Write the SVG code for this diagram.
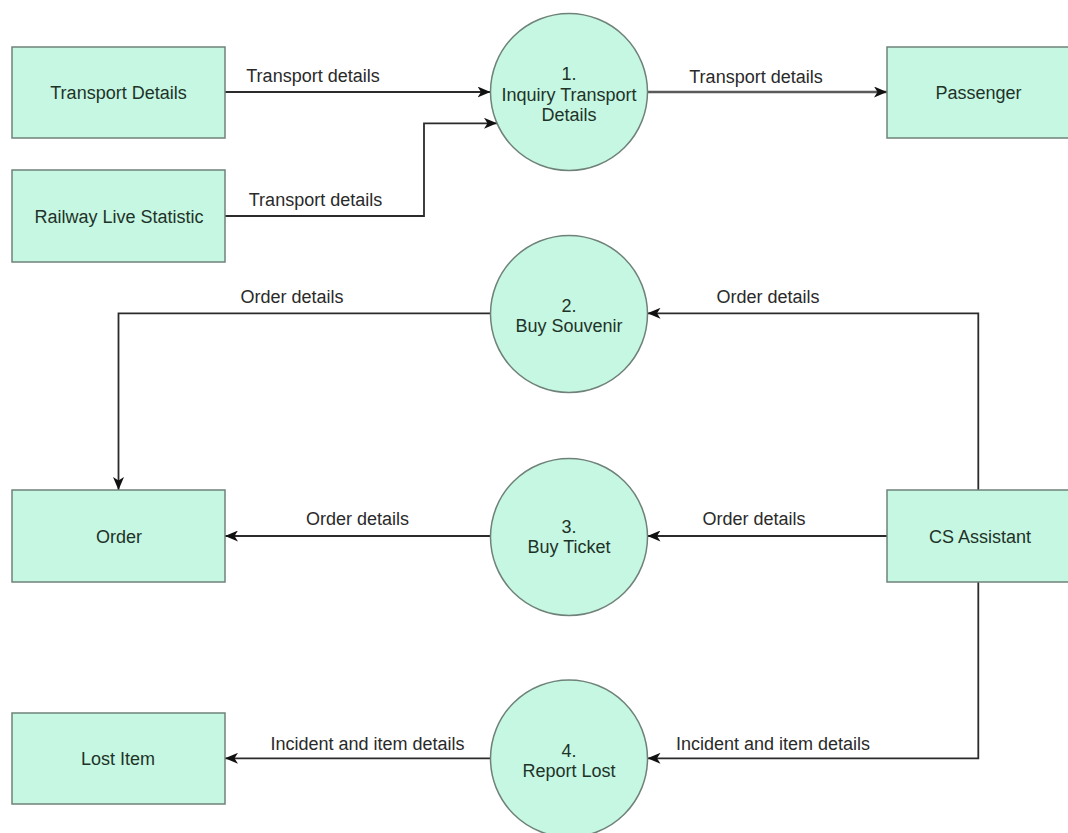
<svg xmlns="http://www.w3.org/2000/svg" width="1068" height="833" viewBox="0 0 1068 833">
<style>
.box{fill:#c6f7e2;stroke:#6f827a;stroke-width:1.5}
.proc{fill:#c6f7e2;stroke:#6f827a;stroke-width:1.5}
.nt{font-family:"Liberation Sans",Arial,sans-serif;font-size:18px;fill:#1e3328;text-anchor:middle}
.lbl{font-family:"Liberation Sans",Arial,sans-serif;font-size:18px;fill:#2a2a2a;text-anchor:middle}
.edge{fill:none;stroke:#2b2b2b;stroke-width:1.8;marker-end:url(#arr)}
.edge2{fill:none;stroke:#5a5a5a;stroke-width:2.4;marker-end:url(#arr)}
</style>
<defs>
<marker id="arr" viewBox="0 0 13 11" refX="13" refY="5.5" markerWidth="13" markerHeight="11" markerUnits="userSpaceOnUse" orient="auto">
<path d="M0,0 L13,5.5 L0,11 L3.5,5.5 z" fill="#111"/>
</marker>
</defs>
<rect width="1068" height="833" fill="#ffffff"/>

<g id="connectors">
<path class="edge" d="M225,92 L490.5,92"/>
<path class="edge" d="M225,216 L424,216 L424,123.3 L497,123.3"/>
<path class="edge2" d="M647.5,92 L887,92"/>
<path class="edge" d="M978.3,490 L978.3,313.3 L647.5,313.3"/>
<path class="edge" d="M490.5,313.3 L118.5,313.3 L118.5,490"/>
<path class="edge" d="M887,536 L647.5,536"/>
<path class="edge" d="M490.5,536 L225,536"/>
<path class="edge" d="M978.3,582 L978.3,758.3 L647.5,758.3"/>
<path class="edge" d="M490.5,758.3 L225,758.3"/>
<text class="lbl" x="313" y="82">Transport details</text>
<text class="lbl" x="315.5" y="206">Transport details</text>
<text class="lbl" x="756" y="83">Transport details</text>
<text class="lbl" x="292" y="303">Order details</text>
<text class="lbl" x="768" y="303">Order details</text>
<text class="lbl" x="357.5" y="525">Order details</text>
<text class="lbl" x="754" y="525">Order details</text>
<text class="lbl" x="367.5" y="750">Incident and item details</text>
<text class="lbl" x="773" y="750">Incident and item details</text>
</g>

<g id="transport-details">
<rect class="box" x="12" y="47" width="213" height="91"/>
<text class="nt" x="118.5" y="99">Transport Details</text>
</g>
<g id="railway-live-statistic">
<rect class="box" x="12" y="170" width="213" height="92"/>
<text class="nt" x="119" y="222.5">Railway Live Statistic</text>
</g>
<g id="passenger">
<rect class="box" x="887" y="47" width="190" height="91"/>
<text class="nt" x="978.5" y="99">Passenger</text>
</g>
<g id="order">
<rect class="box" x="12" y="490" width="213" height="92"/>
<text class="nt" x="119" y="542.5">Order</text>
</g>
<g id="cs-assistant">
<rect class="box" x="887" y="490" width="190" height="92"/>
<text class="nt" x="980" y="542.5">CS Assistant</text>
</g>
<g id="lost-item">
<rect class="box" x="12" y="713" width="213" height="91"/>
<text class="nt" x="118" y="765">Lost Item</text>
</g>

<g id="p1-inquiry-transport-details">
<circle class="proc" cx="569" cy="92" r="78.5"/>
<text class="nt" x="569" y="80">1.</text>
<text class="nt" x="569" y="100.5">Inquiry Transport</text>
<text class="nt" x="569" y="121">Details</text>
</g>
<g id="p2-buy-souvenir">
<circle class="proc" cx="569" cy="314" r="78.5"/>
<text class="nt" x="569" y="311.5">2.</text>
<text class="nt" x="569" y="331.5">Buy Souvenir</text>
</g>
<g id="p3-buy-ticket">
<circle class="proc" cx="569" cy="537" r="78.5"/>
<text class="nt" x="569" y="533">3.</text>
<text class="nt" x="569" y="553">Buy Ticket</text>
</g>
<g id="p4-report-lost">
<circle class="proc" cx="569" cy="758.5" r="78.5"/>
<text class="nt" x="569" y="756.5">4.</text>
<text class="nt" x="569" y="776.5">Report Lost</text>
</g>
</svg>
